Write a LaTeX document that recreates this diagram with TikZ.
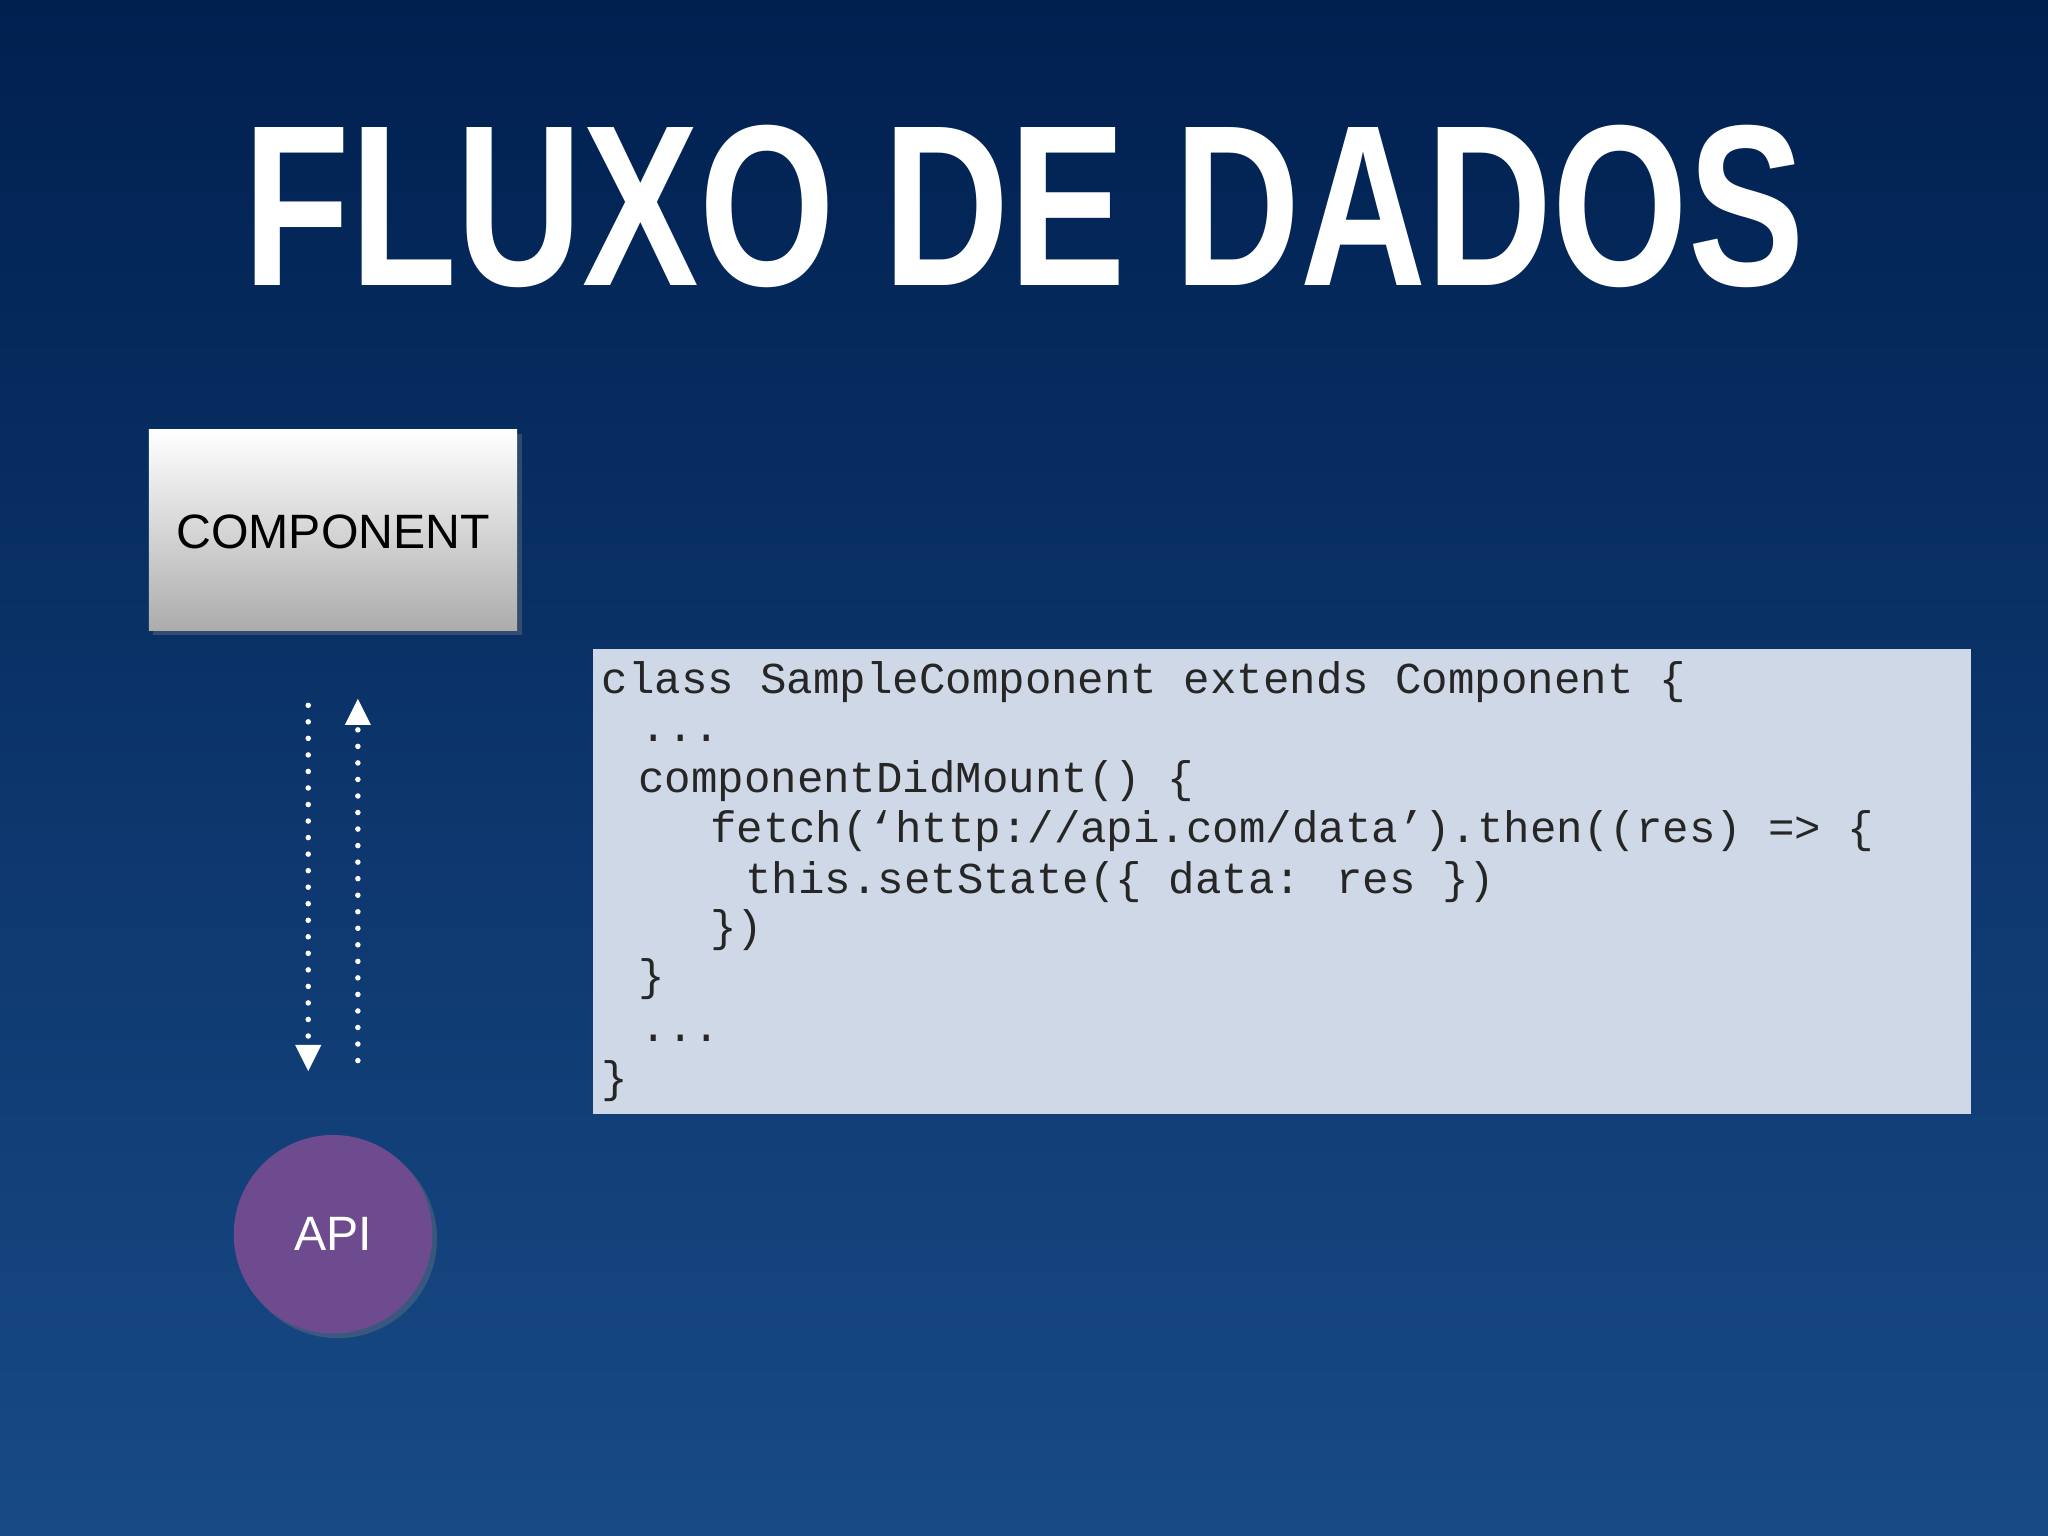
\documentclass[tikz,border=0pt]{standalone}
\usepackage{fontspec}
\setmainfont{Liberation Sans}
\newfontfamily\codefont{Liberation Mono}
\usetikzlibrary{shadows}
\definecolor{bgtop}{HTML}{002050}
\definecolor{bgbot}{HTML}{184A86}
\definecolor{codebg}{HTML}{CFD8E6}
\definecolor{apipurple}{HTML}{6E4A8E}
\begin{document}
\begin{tikzpicture}[x=0.01cm,y=-0.01cm,
  codeline/.style={anchor=west,inner sep=0pt,font=\codefont\fontsize{9.6}{11}\selectfont,text=black!85},
  flow/.style={white,line width=1.2pt,dash pattern=on 0pt off 3.6pt,line cap=round},
  softshadow/.style={drop shadow={opacity=0.35,shadow xshift=1pt,shadow yshift=-1pt}}]
\useasboundingbox (0,0) rectangle (1568,1176);
\shade[top color=bgtop,bottom color=bgbot] (0,0) rectangle (1568,1176);
\node[text=white,inner sep=0pt,font=\bfseries\fontsize{50}{60}\selectfont,xscale=0.76] (title) at (784,158) {FLUXO DE DADOS};
\shade[top color=white,bottom color=gray!65,softshadow] (114,329) rectangle (396,483);
\node[font=\fontsize{10.5}{12}\selectfont,inner sep=0pt] (comp) at (255,407) {COMPONENT};
\node[circle,fill=apipurple,minimum size=1.52cm,softshadow,text=white,font=\fontsize{10.5}{12}\selectfont] (api) at (255,945) {API};
\coordinate (d1) at (236,540); \coordinate (d2) at (236,795);
\coordinate (u1) at (274,812); \coordinate (u2) at (274,557);
\draw[flow] (d1) -- (d2);
\fill[white] (226,800) -- (246,800) -- (236,820) -- cycle;
\draw[flow] (u1) -- (u2);
\fill[white] (264,555) -- (284,555) -- (274,535) -- cycle;
\fill[codebg] (454,497) rectangle (1509,853);
\node[codeline] (l1) at (460,522) {class SampleComponent extends Component \{};
\node[codeline] (l2) at (490,565) {...};
\node[codeline] (l3) at (488,598) {componentDidMount() \{};
\node[codeline] (l4) at (543,636) {fetch(‘http://api.com/data’).then((res) => \{};
\node[codeline] (l5) at (570,675) {this.setState(\{ data: res \})};
\node[codeline] (l6) at (543,712) {\})};
\node[codeline] (l7) at (488,750) {\}};
\node[codeline] (l8) at (490,795) {...};
\node[codeline] (l9) at (460,828) {\}};
\end{tikzpicture}
\end{document}
